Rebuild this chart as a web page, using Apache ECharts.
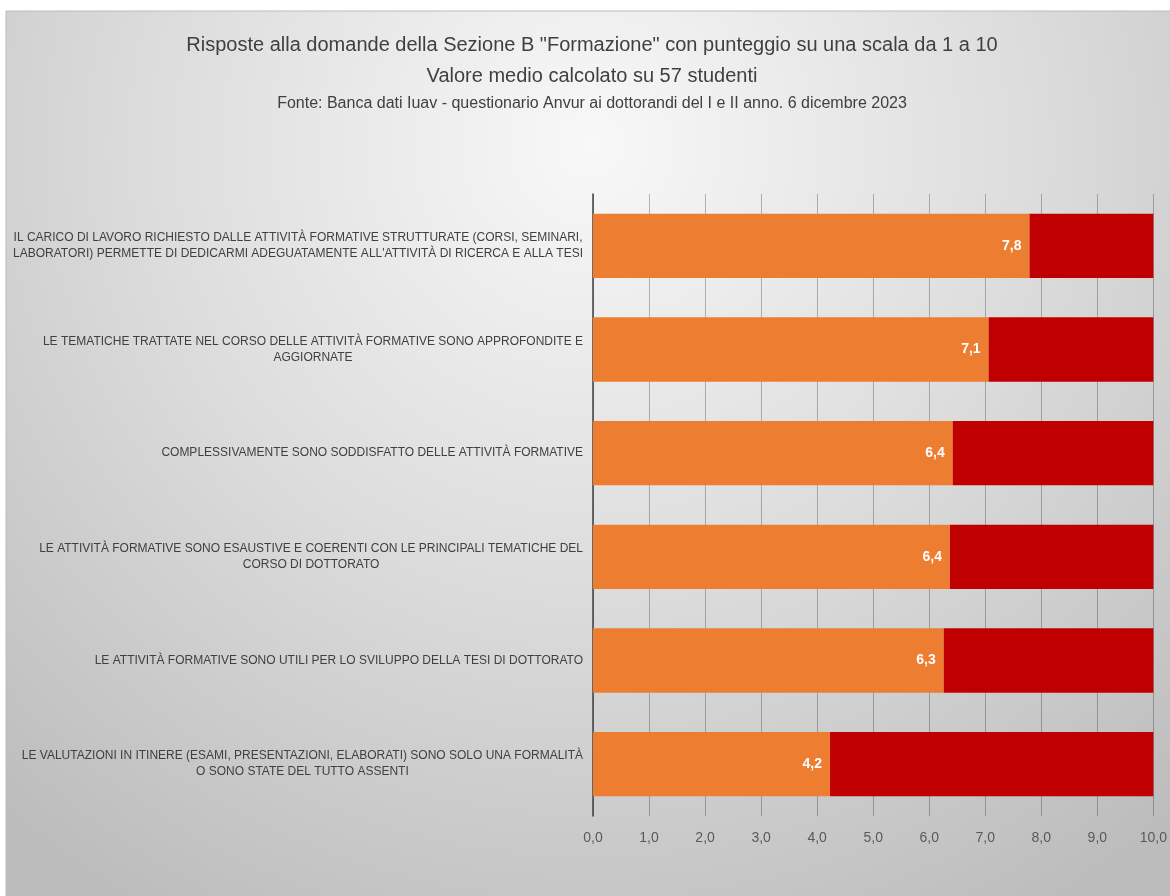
<!DOCTYPE html>
<html>
<head>
<meta charset="utf-8">
<script src="https://cdn.jsdelivr.net/npm/echarts@6/dist/echarts.min.js"></script>
<style>
html,body{margin:0;padding:0;background:#fff;}
#chart{width:1170px;height:896px;}
</style>
</head>
<body>
<div id="chart"></div>
<script>
const titleLines = [
  'Risposte alla domande della Sezione B "Formazione" con punteggio su una scala da 1 a 10',
  'Valore medio calcolato su 57 studenti',
  'Fonte: Banca dati Iuav - questionario Anvur ai dottorandi del I e II anno. 6 dicembre 2023'
];
const categories = [
  ['IL CARICO DI LAVORO RICHIESTO DALLE ATTIVITÀ FORMATIVE STRUTTURATE (CORSI, SEMINARI,', "LABORATORI) PERMETTE DI DEDICARMI ADEGUATAMENTE ALL'ATTIVITÀ DI RICERCA E ALLA TESI"],
  ['LE TEMATICHE TRATTATE NEL CORSO DELLE ATTIVITÀ FORMATIVE SONO APPROFONDITE E', 'AGGIORNATE'],
  ['COMPLESSIVAMENTE SONO SODDISFATTO DELLE ATTIVITÀ FORMATIVE'],
  ['LE ATTIVITÀ FORMATIVE SONO ESAUSTIVE E COERENTI CON LE PRINCIPALI TEMATICHE DEL', 'CORSO DI DOTTORATO'],
  ['LE ATTIVITÀ FORMATIVE SONO UTILI PER LO SVILUPPO DELLA TESI DI DOTTORATO'],
  ['LE VALUTAZIONI IN ITINERE (ESAMI, PRESENTAZIONI, ELABORATI) SONO SOLO UNA FORMALITÀ', 'O SONO STATE DEL TUTTO ASSENTI']
];
const meanValues = [7.79, 7.06, 6.42, 6.37, 6.26, 4.23];
const remainderValues = [2.21, 2.94, 3.58, 3.63, 3.74, 5.77];

const fmt = v => v.toFixed(1).replace('.', ',');
const catKeys = categories.map((c, i) => String(i));

const chart = echarts.init(document.getElementById('chart'));
const FONT = '"Liberation Sans Narrow", "Arial Narrow", sans-serif';
chart.setOption({
  animation: false,
  graphic: [{
    type: 'rect', z: -100, silent: true,
    shape: {x: 6, y: 11, width: 1170, height: 890},
    style: {
      fill: {type: 'radial', x: 0.5, y: 0.15, r: 1.0,
        colorStops: [{offset: 0, color: '#f8f8f8'}, {offset: 0.5, color: '#dcdcdc'}, {offset: 1, color: '#bcbcbc'}]},
      stroke: '#bcbcbc', lineWidth: 1
    }
  }],
  title: [
    {text: titleLines[0], left: 592, top: 35, textAlign: 'center', padding: 0,
     textStyle: {fontFamily: FONT, fontSize: 20, fontWeight: 'normal', color: '#404040'}},
    {text: titleLines[1], left: 592, top: 66, textAlign: 'center', padding: 0,
     textStyle: {fontFamily: FONT, fontSize: 20, fontWeight: 'normal', color: '#404040'}},
    {text: titleLines[2], left: 592, top: 96, textAlign: 'center', padding: 0,
     textStyle: {fontFamily: FONT, fontSize: 16, fontWeight: 'normal', color: '#404040'}}
  ],
  grid: {left: 593, right: 15, top: 194, height: 622, containLabel: false},
  xAxis: {
    type: 'value', min: 0, max: 10, interval: 1,
    axisLine: {show: false}, axisTick: {show: false},
    splitLine: {show: true, lineStyle: {color: 'rgba(0,0,0,0.26)', width: 1}},
    axisLabel: {formatter: v => fmt(v), color: '#595959', fontFamily: FONT, fontSize: 14, margin: 15}
  },
  yAxis: {
    type: 'category', inverse: true, data: catKeys,
    axisLine: {show: true, lineStyle: {color: '#404040', width: 1.5}},
    axisTick: {show: false},
    axisLabel: {
      margin: 10, align: 'right', lineHeight: 16,
      formatter: (v) => categories[+v].map(l => '{c|' + l + '}').join('\n'),
      rich: {c: {align: 'center', fontFamily: FONT, fontSize: 12, color: '#404040', lineHeight: 16}}
    }
  },
  series: [
    {type: 'bar', stack: 's', data: meanValues, barCategoryGap: '38%',
     itemStyle: {color: '#ED7D31'},
     label: {show: true, position: 'insideRight', distance: 8, formatter: p => fmt(p.value),
       color: '#ffffff', fontWeight: 'bold', fontFamily: FONT, fontSize: 14}},
    {type: 'bar', stack: 's', data: remainderValues, itemStyle: {color: '#C00000'}}
  ]
});
</script>
</body>
</html>
